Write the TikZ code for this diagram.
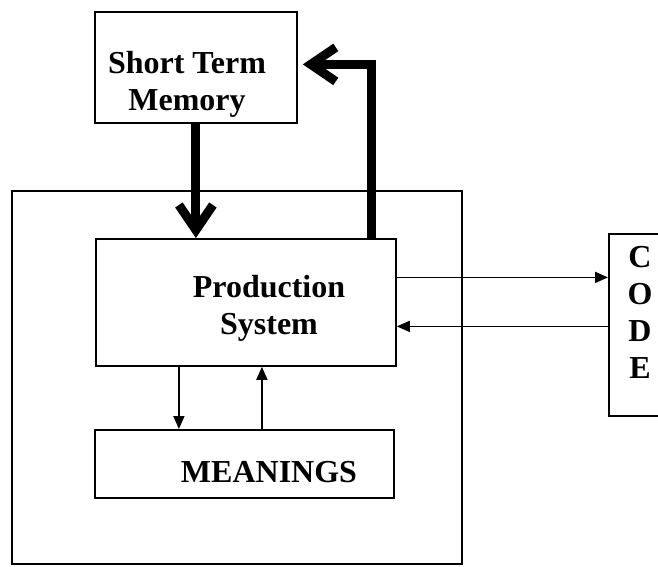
\documentclass[tikz,border=0pt]{standalone}
\usepackage{fontspec}
\setmainfont{Liberation Serif}
\usetikzlibrary{arrows.meta}

\tikzset{
  box/.style={draw, line width=1.8pt, rectangle, inner sep=0pt, anchor=north west},
  lbl/.style={font=\fontsize{32}{37}\selectfont\bfseries, align=center, inner sep=0pt},
  thin arrow/.style={line width=1.8pt, -{Triangle[length=13pt,width=11pt]}},
  fat arrow/.style={line width=9pt, -{Straight Barb[length=25pt,width=34pt]}}
}

\begin{document}
\begin{tikzpicture}[x=1pt,y=-1pt]
  \clip (0,0) rectangle (658,566);

  % boxes
  \node[box, minimum width=450pt, minimum height=373pt] (sys) at (11,190) {};
  \node[box, minimum width=202pt, minimum height=111pt] (stm) at (94,11) {};
  \node[box, minimum width=300pt, minimum height=127pt] (ps) at (95,238) {};
  \node[box, minimum width=299pt, minimum height=68pt] (mean) at (94,429) {};
  \node[box, minimum width=80pt, minimum height=182pt] (code) at (608,233) {};

  % labels
  \node[lbl] (stmtext) at (187,84) {Short Term\\Memory};
  \node[lbl] (pstext) at (269,308) {Production\\System};
  \node[lbl] (meantext) at (269,472) {MEANINGS};
  \node[lbl] (codetext) at (640,312) {C\\O\\D\\E};

  % helper points for the connectors
  \coordinate (out) at ([yshift=25pt]ps.east);
  \coordinate (in) at ([yshift=-24pt]ps.east);
  \coordinate (dn) at ([xshift=-67pt]ps.south);
  \coordinate (up) at ([xshift=16pt]ps.south);
  \coordinate (back) at ([xshift=-25pt]ps.north east);
  \coordinate (stmin) at ([xshift=5pt,yshift=3pt]stm.east);

  % memory loop
  \draw[fat arrow] (stm.south) -- (stm.south |- ps.north);
  \draw[fat arrow] (back) |- (stmin);

  % code and meanings
  \draw[thin arrow] (out) -- (out -| code.west);
  \draw[thin arrow] (in -| code.west) -- (in);
  \draw[thin arrow] (dn) -- (dn |- mean.north);
  \draw[thin arrow] (up |- mean.north) -- (up);
\end{tikzpicture}
\end{document}
